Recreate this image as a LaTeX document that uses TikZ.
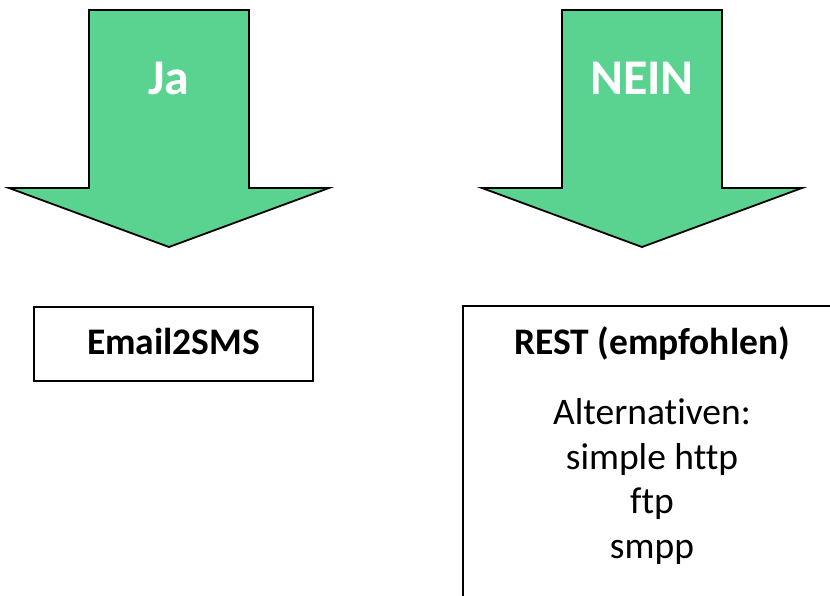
\documentclass[tikz,border=0pt]{standalone}
\usepackage{fontspec}
\setmainfont{Carlito}[Ligatures=NoCommon]
\definecolor{arrowgreen}{RGB}{89,211,143}

\tikzset{
	downarrow/.style={draw=black, fill=arrowgreen, line width=1.8pt, line join=miter},
	arrowlabel/.style={text=white, anchor=base, font=\fontsize{50}{60}\selectfont\bfseries},
	box/.style={draw=black, line width=1.6pt, shape=rectangle},
	boxlabel/.style={anchor=base, font=\fontsize{37.5}{45}\selectfont}
}

\begin{document}
\begin{tikzpicture}[x=1pt,y=-1pt]
	\useasboundingbox (0,0) rectangle (830,595);
	\clip (0,0) rectangle (830,595);
	
	\draw[downarrow] (89,10) -- (249,10) -- (249,188) -- (329,188) -- (169,247) -- (9,188) -- (89,188) -- cycle;
	\draw[downarrow] (562,10) -- (722,10) -- (722,188) -- (802,188) -- (642,247) -- (482,188) -- (562,188) -- cycle;
	\node[arrowlabel] (ja) at (169,94) {Ja};
	\node[arrowlabel] (nein) at (642,94) {NEIN};
	
	\node[box, minimum width=279pt, minimum height=74pt] (email) at (173.5,344) {};
	\node[boxlabel, font=\fontsize{37.5}{45}\selectfont\bfseries] (emaillabel) at (173.5,354) {Email2SMS};
	
	\node[box, anchor=north west, minimum width=400pt, minimum height=320pt] (rest) at (462,305) {};
	\node[boxlabel, font=\fontsize{37.5}{45}\selectfont\bfseries] (restlabel) at (652,354) {REST (empfohlen)};
	\node[boxlabel] (alt) at (652,424.5) {Alternativen:};
	\node[boxlabel] (http) at (652,469) {simple http};
	\node[boxlabel] (ftp) at (652,513.5) {ftp};
	\node[boxlabel] (smpp) at (652,558) {smpp};
\end{tikzpicture}
\end{document}
